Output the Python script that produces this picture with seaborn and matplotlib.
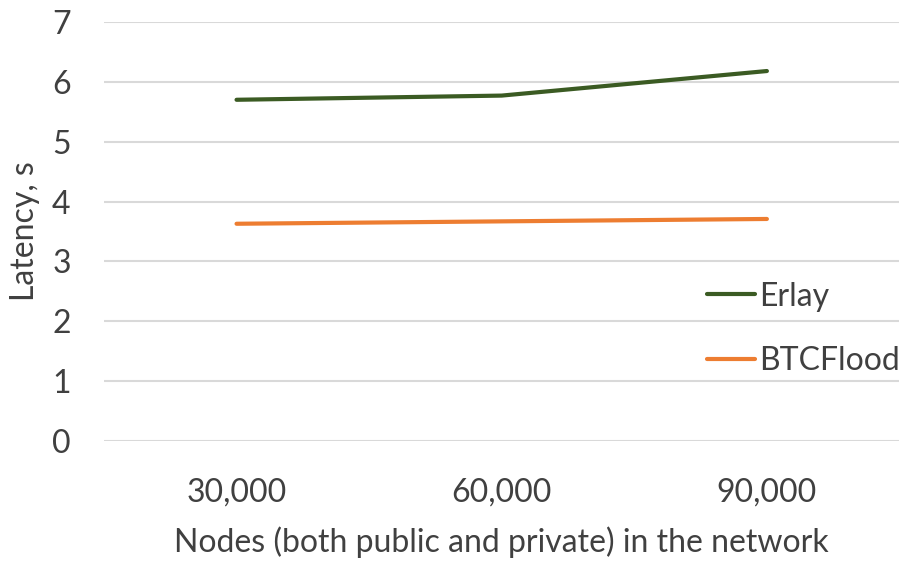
import matplotlib
matplotlib.use("Agg")
import matplotlib.pyplot as plt
import seaborn as sns
import pandas as pd

# Network sizes and measured latencies
nodes = ["30,000", "60,000", "90,000"]
erlay = [5.70, 5.77, 6.18]
btcflood = [3.63, 3.67, 3.71]
y_ticks = [0, 1, 2, 3, 4, 5, 6, 7]

df = pd.DataFrame({
    "nodes": nodes * 2,
    "latency": erlay + btcflood,
    "protocol": ["Erlay"] * len(nodes) + ["BTCFlood"] * len(nodes),
})

sns.set_theme(style="white")
plt.rcParams["font.family"] = ["Lato", "DejaVu Sans"]
text_color = "#404040"
fs = 23

fig = plt.figure(figsize=(9.04, 5.62), dpi=100)
ax = fig.add_axes([0.115, 0.215, 0.88, 0.746])

palette = {"Erlay": "#3B5B23", "BTCFlood": "#ED7D31"}
sns.lineplot(data=df, x="nodes", y="latency", hue="protocol", palette=palette,
             linewidth=3.0, sort=False, ax=ax, solid_capstyle="round")

ax.set_xlim(-0.5, len(nodes) - 0.5)
ax.set_ylim(0, 7)
ax.set_yticks(y_ticks)
ax.grid(axis="y", color="#d9d9d9", linewidth=1.5)
ax.set_axisbelow(True)
for s in ax.spines.values():
    s.set_visible(False)
ax.tick_params(axis="both", length=0, labelsize=fs, colors=text_color)
ax.tick_params(axis="y", pad=24)
ax.tick_params(axis="x", pad=26)
ax.set_xlabel("Nodes (both public and private) in the network", fontsize=fs,
              color=text_color, labelpad=14)
ax.set_ylabel("Latency, s", fontsize=fs, color=text_color, labelpad=9)

leg = ax.legend(loc="center left", bbox_to_anchor=(0.758, 0.268), frameon=False,
                fontsize=fs, handlelength=1.5, handletextpad=0.12,
                labelspacing=1.08, borderpad=0, borderaxespad=0,
                labelcolor=text_color)
for line in leg.get_lines():
    line.set_linewidth(3.0)

fig.savefig("out.png", dpi=100)
